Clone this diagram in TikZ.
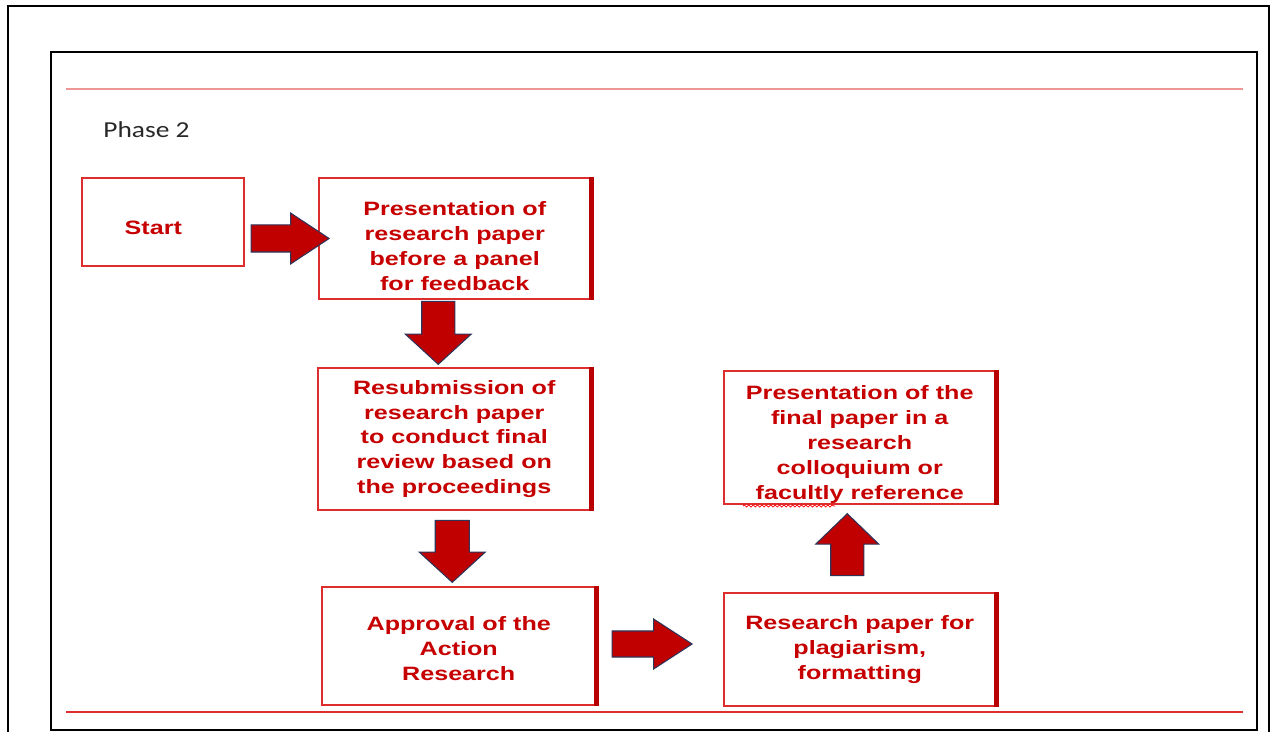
\documentclass[tikz,border=0pt]{standalone}
\usepackage{fontspec}
\usepackage{tikz}
\usetikzlibrary{shapes.arrows}
\usetikzlibrary{calc}
\usetikzlibrary{decorations.pathmorphing}
\usepackage{xcolor}

\newfontfamily\boxfont[FakeStretch=1.3]{Liberation Sans}
\newfontfamily\phasefont[FakeStretch=1.2]{Carlito}
\definecolor{textred}{RGB}{198,0,0}
\definecolor{edgered}{RGB}{222,45,45}
\definecolor{shadered}{RGB}{185,0,0}
\definecolor{arrowred}{RGB}{192,0,0}
\definecolor{arrownavy}{RGB}{45,52,90}
\definecolor{rulepink}{RGB}{238,150,150}
% push the first line of a box text down
\newcommand{\lowerby}[1]{\rule{0pt}{#1}}

\begin{document}
\begin{tikzpicture}[x=0.02cm,y=-0.02cm,
  stepbox/.style={draw=edgered, line width=1.1pt, align=center, text=textred,
    font=\boxfont\bfseries\fontsize{11}{14.2}\selectfont, inner sep=0pt},
  shadebox/.style={stepbox,
    append after command={(\tikzlastnode.north east) edge[draw=shadered, line width=2.5pt] (\tikzlastnode.south east)}},
  blockarrow/.style={shape=single arrow, draw=arrownavy, line width=0.6pt, fill=arrowred,
    single arrow head indent=0pt}]
\useasboundingbox (0,0) rectangle (1277,732);
%frames
\draw[line width=1.3pt] (8,745) -- (8,6) -- (1269,6) -- (1269,745);
\draw[line width=0.9pt] (51,52) rectangle (1257,730);
\draw[rulepink, line width=1.2pt] (66,89) -- (1243,89);
\draw[edgered, line width=1.1pt] (66,712) -- (1243,712);
\node[anchor=base west, text={rgb,255:red,40;green,40;blue,40}, inner sep=0pt,
  font=\phasefont\fontsize{13}{15}\selectfont] (phase) at (103,138) {Phase 2};

%boxes
\node[stepbox, minimum width=3.24cm, minimum height=1.76cm] (start) at (163,222)
  {\lowerby{14.8pt}Start\hspace{11pt}};
\node[shadebox, minimum width=5.43cm, minimum height=2.42cm] (pres) at (454.75,238.5)
  {\lowerby{17pt}Presentation of\\research paper\\before a panel\\for feedback};
\node[shadebox, minimum width=5.45cm, minimum height=2.84cm] (resub) at (454.25,439)
  {Resubmission of\\research paper\\to conduct final\\review based on\\the proceedings};
\node[shadebox, minimum width=5.47cm, minimum height=2.36cm] (approv) at (458.75,646)
  {\lowerby{11pt}Approval of the\\Action\\Research};
\node[shadebox, minimum width=5.43cm, minimum height=2.26cm] (plag) at (859.75,649.5)
  {Research paper for\\plagiarism,\\formatting};
\node[shadebox, minimum width=5.43cm, minimum height=2.66cm] (final) at (859.75,437.5)
  {\lowerby{15.8pt}Presentation of the\\final paper in a\\research\\colloquium or\\facultly reference};
\draw[red, line width=0.4pt, decorate, decoration={snake, amplitude=0.6pt, segment length=2.5pt}]
  (743,506) -- (835,506);

%arrows
\node[blockarrow, anchor=tip, minimum height=1.56cm, inner sep=0.26cm,
  single arrow head extend=0.24cm, single arrow tip angle=67] (a1) at ($(pres.west)+(12,0)$) {};
\node[blockarrow, anchor=tip, rotate=-90, minimum height=1.26cm, inner sep=0.32cm,
  single arrow head extend=0.33cm, single arrow tip angle=95] (a2) at ($(resub.north)+(-16,-2)$) {};
\node[blockarrow, anchor=tip, rotate=-90, minimum height=1.24cm, inner sep=0.33cm,
  single arrow head extend=0.32cm, single arrow tip angle=95] (a3) at ($(approv.north)+(-6.5,-3)$) {};
\node[blockarrow, anchor=tip, minimum height=1.6cm, inner sep=0.25cm,
  single arrow head extend=0.24cm, single arrow tip angle=66] (a4) at ($(plag.west)+(-30,-5.5)$) {};
\node[blockarrow, anchor=tip, rotate=90, minimum height=1.24cm, inner sep=0.32cm,
  single arrow head extend=0.30cm, single arrow tip angle=92] (a5) at ($(final.south)+(-12.5,8)$) {};
\end{tikzpicture}
\end{document}
